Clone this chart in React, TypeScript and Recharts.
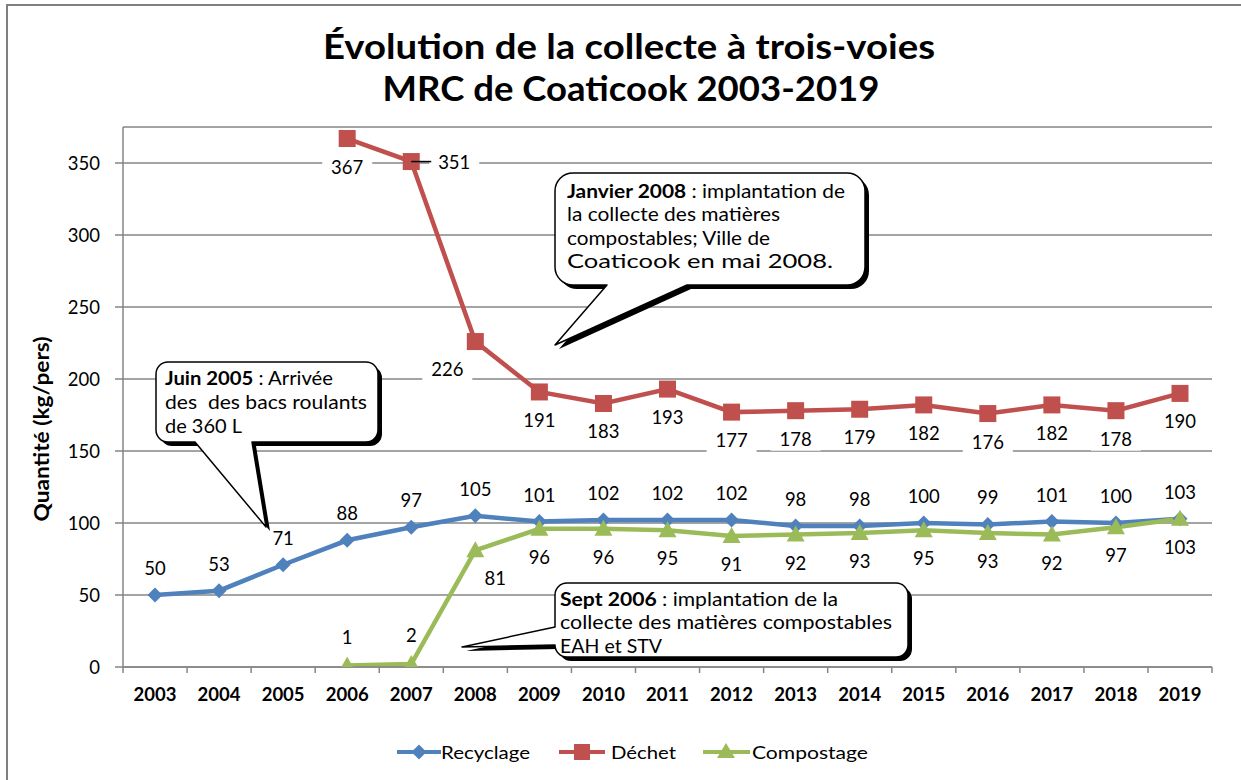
import React from "react";
import { LineChart, Line, XAxis, YAxis, CartesianGrid, LabelList } from "recharts";

const years = ["2003", "2004", "2005", "2006", "2007", "2008", "2009", "2010", "2011", "2012", "2013", "2014", "2015", "2016", "2017", "2018", "2019"];
const recyclage = [50, 53, 71, 88, 97, 105, 101, 102, 102, 102, 98, 98, 100, 99, 101, 100, 103];
const dechet = [null, null, null, 367, 351, 226, 191, 183, 193, 177, 178, 179, 182, 176, 182, 178, 190];
const compostage = [null, null, null, 1, 2, 81, 96, 96, 95, 91, 92, 93, 95, 93, 92, 97, 103];
const yTicks = [0, 50, 100, 150, 200, 250, 300, 350];

const data = years.map((year, i) => ({
  year,
  recyclage: recyclage[i],
  dechet: dechet[i],
  compostage: compostage[i],
}));

const FONT = "Lato, 'Open Sans', sans-serif";
const GRID = "#868686";
const BLUE = "#4F81BD";
const RED = "#C0504D";
const GREEN = "#9BBB59";

// label placement tweaks (dx, dy) for a few points
const dechetLabelShift: Record<number, [number, number]> = {
  4: [43, 0],
  5: [-28, 27],
};
const compostLabelShift: Record<number, [number, number]> = {
  3: [0, -29],
  4: [0, -29],
  5: [20, 28],
};

function Diamond(props: any) {
  const { cx, cy, index } = props;
  if (cx == null || cy == null) return <g key={index} />;
  const s = 7.5;
  return <path key={index} d={`M${cx},${cy - s}L${cx + s},${cy}L${cx},${cy + s}L${cx - s},${cy}Z`} fill={BLUE} />;
}

function Square(props: any) {
  const { cx, cy, index, value } = props;
  if (cx == null || cy == null || value == null) return <g key={index} />;
  return <rect key={index} x={cx - 8.5} y={cy - 8.5} width={17} height={17} fill={RED} />;
}

function Triangle(props: any) {
  const { cx, cy, index, value } = props;
  if (cx == null || cy == null || value == null) return <g key={index} />;
  return <path key={index} d={`M${cx},${cy - 9}L${cx + 9},${cy + 7}L${cx - 9},${cy + 7}Z`} fill={GREEN} />;
}

function makeLabel(defaultDy: number, shifts: Record<number, [number, number]>, boxed: boolean) {
  return (props: any) => {
    const { x, y, value, index } = props;
    if (value == null || x == null || y == null) return null;
    const [dx, dy] = shifts[index] ?? [0, defaultDy];
    const cx = x + dx;
    const cy = y + dy;
    return (
      <g key={`lbl-${index}`}>
        {boxed && <rect x={cx - 25} y={cy - 12} width={50} height={24} fill="#fff" />}
        {/* leader line when the label sits to the right of its point */}
        {dy === 0 && dx > 0 && <line x1={x} y1={y} x2={cx - 23} y2={y} stroke="#000" strokeWidth={1.5} />}
        <text x={cx} y={cy} textAnchor="middle" dominantBaseline="central" fontFamily={FONT} fontSize={18.5} fill="#000">
          {value}
        </text>
      </g>
    );
  };
}

function YearTick(props: any) {
  const { x, y, payload, index, visibleTicksCount } = props;
  const half = 32;
  return (
    <g>
      <line x1={x - half} y1={y} x2={x - half} y2={y + 6} stroke={GRID} strokeWidth={1.5} />
      {index === visibleTicksCount - 1 && (
        <line x1={x + half} y1={y} x2={x + half} y2={y + 6} stroke={GRID} strokeWidth={1.5} />
      )}
      <text x={x} y={y + 27} textAnchor="middle" dominantBaseline="central" fontFamily={FONT} fontWeight="bold" fontSize={18.5} fill="#000">
        {payload.value}
      </text>
    </g>
  );
}

type Seg = { t: string; b?: boolean };
type CalloutProps = {
  x: number; y: number; w: number; h: number; r: number;
  tail: { side: "bottom" | "left"; a: number; b: number; tx: number; ty: number };
  lines: { segs: Seg[]; len: number; base: number }[];
  tx: number;
};

function calloutPath({ x, y, w, h, r, tail }: CalloutProps) {
  let p = `M${x + r},${y} H${x + w - r} A${r},${r} 0 0 1 ${x + w},${y + r} V${y + h - r} A${r},${r} 0 0 1 ${x + w - r},${y + h}`;
  if (tail.side === "bottom") {
    p += ` H${tail.b} L${tail.tx},${tail.ty} L${tail.a},${y + h} H${x + r} A${r},${r} 0 0 1 ${x},${y + h - r} V${y + r}`;
  } else {
    p += ` H${x + r} A${r},${r} 0 0 1 ${x},${y + h - r} V${tail.b} L${tail.tx},${tail.ty} L${x},${tail.a} V${y + r}`;
  }
  p += ` A${r},${r} 0 0 1 ${x + r},${y} Z`;
  return p;
}

function Callout(props: CalloutProps) {
  const d = calloutPath(props);
  return (
    <g>
      <path d={d} transform="translate(4,4)" fill="#000" />
      <path d={d} fill="#fff" stroke="#000" strokeWidth={1.5} strokeLinejoin="round" />
      {props.lines.map((ln, i) => (
        <text key={i} x={props.tx} y={ln.base} fontFamily={FONT} fontSize={19} fill="#000" textLength={ln.len} lengthAdjust="spacingAndGlyphs">
          {ln.segs.map((s, j) => (
            <tspan key={j} fontWeight={s.b ? "bold" : "normal"}>{s.t}</tspan>
          ))}
        </text>
      ))}
    </g>
  );
}

function Overlay() {
  return (
    <svg width={1241} height={780} style={{ position: "absolute", left: 0, top: 0, pointerEvents: "none" }}>
      {/* frame */}
      <path d="M7,790 V5 H1250" fill="none" stroke="#7f7f7f" strokeWidth={2} />
      {/* title */}
      <text x={629} y={59} textAnchor="middle" fontFamily={FONT} fontWeight="bold" fontSize={35} textLength={612} lengthAdjust="spacingAndGlyphs">
        Évolution de la collecte à trois-voies
      </text>
      <text x={631} y={101} textAnchor="middle" fontFamily={FONT} fontWeight="bold" fontSize={35} textLength={497} lengthAdjust="spacingAndGlyphs">
        MRC de Coaticook 2003-2019
      </text>
      {/* y axis title */}
      <text x={0} y={0} transform="translate(49,429) rotate(-90)" textAnchor="middle" fontFamily={FONT} fontWeight="bold" fontSize={20} textLength={185} lengthAdjust="spacingAndGlyphs">
        Quantité (kg/pers)
      </text>

      <Callout
        x={156} y={362} w={222} h={80} r={12}
        tail={{ side: "bottom", a: 195, b: 252, tx: 266, ty: 527 }}
        tx={165}
        lines={[
          { segs: [{ t: "Juin 2005", b: true }, { t: " : Arrivée" }], len: 168, base: 385 },
          { segs: [{ t: "des\u00a0 des bacs roulants" }], len: 202, base: 409 },
          { segs: [{ t: "de 360 L" }], len: 77, base: 433 },
        ]}
      />
      <Callout
        x={555} y={173} w={310} h={112} r={18}
        tail={{ side: "bottom", a: 607, b: 687, tx: 555, ty: 345 }}
        tx={567}
        lines={[
          { segs: [{ t: "Janvier 2008", b: true }, { t: " : implantation de" }], len: 278, base: 198 },
          { segs: [{ t: "la collecte des matières" }], len: 213, base: 221 },
          { segs: [{ t: "compostables; Ville de" }], len: 203, base: 245 },
          { segs: [{ t: "Coaticook en mai 2008." }], len: 266, base: 268 },
        ]}
      />
      <Callout
        x={555} y={583} w={353} h={74} r={12}
        tail={{ side: "left", a: 627, b: 645, tx: 462, ty: 647 }}
        tx={560}
        lines={[
          { segs: [{ t: "Sept 2006", b: true }, { t: " : implantation de la" }], len: 278, base: 606 },
          { segs: [{ t: "collecte des matières compostables" }], len: 332, base: 629 },
          { segs: [{ t: "EAH et STV" }], len: 102, base: 653 },
        ]}
      />

      {/* legend */}
      <g fontFamily={FONT} fontSize={18}>
        <line x1={397} y1={752} x2={441} y2={752} stroke={BLUE} strokeWidth={4} />
        <path d="M419,744.5L426.5,752L419,759.5L411.5,752Z" fill={BLUE} />
        <text x={441} y={752} dominantBaseline="central" textLength={89} lengthAdjust="spacingAndGlyphs">Recyclage</text>
        <line x1={559} y1={752} x2={605} y2={752} stroke={RED} strokeWidth={4} />
        <rect x={574} y={744} width={16} height={16} fill={RED} />
        <text x={611} y={752} dominantBaseline="central" textLength={65} lengthAdjust="spacingAndGlyphs">Déchet</text>
        <line x1={703} y1={752} x2={750} y2={752} stroke={GREEN} strokeWidth={4} />
        <path d="M726,743L735,758L717,758Z" fill={GREEN} />
        <text x={752} y={752} dominantBaseline="central" textLength={116} lengthAdjust="spacingAndGlyphs">Compostage</text>
      </g>
    </svg>
  );
}

export default function App() {
  return (
    <div style={{ position: "fixed", left: 0, top: 0, width: 1241, height: 780, background: "#fff" }}>
      <LineChart width={1241} height={780} data={data} margin={{ top: 127, right: 29, bottom: 73, left: 63 }}>
        <CartesianGrid vertical={false} stroke={GRID} strokeWidth={1.5} />
        <XAxis
          dataKey="year"
          padding={{ left: 32, right: 32 }}
          height={40}
          tickLine={false}
          tickSize={0}
          tickMargin={0}
          interval={0}
          axisLine={{ stroke: GRID, strokeWidth: 1.5 }}
          tick={<YearTick />}
        />
        <YAxis
          width={60}
          domain={[0, 375]}
          ticks={yTicks}
          allowDataOverflow
          tickSize={8}
          tickMargin={15}
          axisLine={{ stroke: GRID, strokeWidth: 1.5 }}
          tickLine={{ stroke: GRID, strokeWidth: 1.5 }}
          tick={{ fill: "#000", fontFamily: FONT, fontSize: 18.5 }}
        />
        <Line dataKey="recyclage" stroke={BLUE} strokeWidth={4.5} dot={Diamond} activeDot={false} isAnimationActive={false}>
          <LabelList dataKey="recyclage" content={makeLabel(-27, {}, false)} />
        </Line>
        <Line dataKey="dechet" stroke={RED} strokeWidth={4.5} dot={Square} activeDot={false} isAnimationActive={false}>
          <LabelList dataKey="dechet" content={makeLabel(28, dechetLabelShift, true)} />
        </Line>
        <Line dataKey="compostage" stroke={GREEN} strokeWidth={4.5} dot={Triangle} activeDot={false} isAnimationActive={false}>
          <LabelList dataKey="compostage" content={makeLabel(28, compostLabelShift, false)} />
        </Line>
      </LineChart>
      <Overlay />
    </div>
  );
}
